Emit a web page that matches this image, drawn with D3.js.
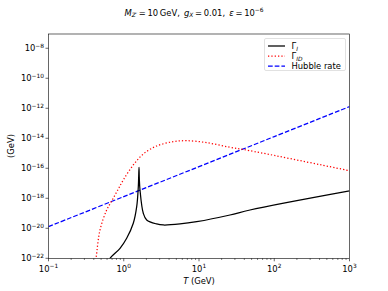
<!DOCTYPE html>
<html><head><meta charset="utf-8">
<script src="https://cdn.jsdelivr.net/npm/d3@7"></script>
<style>html,body{margin:0;padding:0;background:#fff;}svg{display:block;font-family:"DejaVu Sans",sans-serif;}</style>
</head><body>
<svg id="c" width="388" height="291"></svg>
<script>
// Data
const tempI = [0.6, 0.657, 0.892, 1.094, 1.339, 1.486, 1.561, 1.58, 1.595, 1.61, 1.644, 1.819, 2.018, 2.742, 3.355, 5.59, 9.32, 25.8, 47.6, 1000];
const gammaI = [3.2e-23, 1.0e-22, 4.6e-22, 2.15e-21, 2.15e-20, 2.75e-19, 5.9e-18, 3.0e-17, 1.17e-16, 2.0e-17, 3.6e-18, 1.0e-19, 3.6e-20, 1.94e-20, 1.66e-20, 1.94e-20, 2.75e-20, 7.7e-20, 1.66e-19, 3.07e-18];
const tempID = [0.40, 0.428, 0.4835, 0.593, 0.6915, 0.826, 0.986, 1.339, 1.819, 2.742, 4.556, 6.864, 12.66, 25.8, 47.6, 1000];
const gammaID = [1e-23, 1e-22, 7.7e-21, 1.66e-19, 6.6e-19, 3.3e-18, 1.66e-17, 1.66e-16, 8.98e-16, 3.07e-15, 5.93e-15, 6.9e-15, 5.09e-15, 2.51e-15, 1.49e-15, 6.9e-17];
const tempH = [0.1, 1, 10, 100, 1000];
const hubble = [1.29e-20, 1.29e-18, 1.29e-16, 1.29e-14, 1.29e-12];
const xTickExps = [-1, 0, 1, 2, 3];
const yTickExps = [-22, -20, -18, -16, -14, -12, -10, -8];
const legendLabels = [["Γ", "I"], ["Γ", "ID"], ["Hubble rate", null]];

const svg = d3.select("#c");
const L = 48.5, R = 349.5, T = 34, B = 258.3;
const x = d3.scaleLog().domain([0.1, 1000]).range([L, R]);
const y = d3.scaleLog().domain([1e-22, Math.pow(10, -7.05)]).range([B, T]);

svg.append("defs").append("clipPath").attr("id", "clip")
  .append("rect").attr("x", L).attr("y", T).attr("width", R - L).attr("height", B - T);

const fs = 8.4;
function powLabel(sel, e) {
  sel.append("tspan").text("10");
  sel.append("tspan").attr("dy", -3.6).attr("font-size", fs * 0.7).text(e < 0 ? "\u2212" + (-e) : String(e));
}

// x minor ticks
const g = svg.append("g");
for (let d = -1; d < 3; d++) {
  for (let k = 2; k <= 9; k++) {
    const xv = x(k * Math.pow(10, d));
    g.append("line").attr("x1", xv).attr("x2", xv).attr("y1", B).attr("y2", B + 1.7).attr("stroke", "#000").attr("stroke-width", 0.5);
  }
}
xTickExps.forEach(e => {
  const xv = x(Math.pow(10, e));
  g.append("line").attr("x1", xv).attr("x2", xv).attr("y1", B).attr("y2", B + 3).attr("stroke", "#000").attr("stroke-width", 0.6);
  const t = g.append("text").attr("x", xv).attr("y", B + 13.5).attr("text-anchor", "middle").attr("font-size", fs);
  powLabel(t, e);
});
yTickExps.forEach(e => {
  const yv = y(Math.pow(10, e));
  g.append("line").attr("x1", L - 3).attr("x2", L).attr("y1", yv).attr("y2", yv).attr("stroke", "#000").attr("stroke-width", 0.6);
  const t = g.append("text").attr("x", L - 4.5).attr("y", yv + 3).attr("text-anchor", "end").attr("font-size", fs);
  powLabel(t, e);
});

// curves
const lineGen = d3.line().x(d => x(d[0])).y(d => y(d[1])).curve(d3.curveCatmullRom.alpha(0.5));
const plot = svg.append("g").attr("clip-path", "url(#clip)");
plot.append("path").attr("d", lineGen(d3.zip(tempH, hubble))).attr("fill", "none")
  .attr("stroke", "#0000ff").attr("stroke-width", 1.25).attr("stroke-dasharray", "4.7,2");
plot.append("path").attr("d", lineGen(d3.zip(tempID, gammaID))).attr("fill", "none")
  .attr("stroke", "#ff0000").attr("stroke-width", 1.25).attr("stroke-dasharray", "1.26,2.08");
plot.append("path").attr("d", lineGen(d3.zip(tempI, gammaI))).attr("fill", "none")
  .attr("stroke", "#000").attr("stroke-width", 1.25);

// spines
svg.append("rect").attr("x", L).attr("y", T).attr("width", R - L).attr("height", B - T)
  .attr("fill", "none").attr("stroke", "#000").attr("stroke-width", 0.6);

// legend
const lg = svg.append("g");
lg.append("rect").attr("x", 264.5).attr("y", 38.5).attr("width", 81).attr("height", 32).attr("rx", 1.5)
  .attr("fill", "#fff").attr("fill-opacity", 0.8).attr("stroke", "#ccc").attr("stroke-width", 0.6);
const styles = [
  {c: "#000", da: null},
  {c: "#ff0000", da: "1.26,2.08"},
  {c: "#0000ff", da: "4.7,2"}
];
legendLabels.forEach((lab, i) => {
  const yy = 46 + i * 10;
  const ln = lg.append("line").attr("x1", 268).attr("x2", 285).attr("y1", yy).attr("y2", yy)
    .attr("stroke", styles[i].c).attr("stroke-width", 1.25);
  if (styles[i].da) ln.attr("stroke-dasharray", styles[i].da);
  const t = lg.append("text").attr("x", 291.5).attr("y", yy + 3).attr("font-size", fs);
  t.append("tspan").text(lab[0]);
  if (lab[1]) t.append("tspan").attr("dy", 2.2).attr("font-size", fs * 0.7).attr("font-style", "italic").text(lab[1]);
});

// title
const tt = svg.append("text").attr("x", 194).attr("y", 15.5).attr("text-anchor", "middle").attr("font-size", fs);
tt.append("tspan").attr("font-style", "italic").text("M");
tt.append("tspan").attr("dy", 1.8).attr("font-size", fs * 0.7).attr("font-style", "italic").text("Z\u2032");
tt.append("tspan").attr("dy", -1.8).text("\u2009=\u200910\u2009GeV,\u2002");
tt.append("tspan").attr("font-style", "italic").text("g");
tt.append("tspan").attr("dy", 1.8).attr("font-size", fs * 0.7).attr("font-style", "italic").text("X");
tt.append("tspan").attr("dy", -1.8).text("\u2009=\u20090.01,\u2002");
tt.append("tspan").attr("font-style", "italic").text("\u03b5");
tt.append("tspan").text("\u2009=\u200910");
tt.append("tspan").attr("dy", -3.6).attr("font-size", fs * 0.7).text("\u22126");

// axis labels
const xl = svg.append("text").attr("x", 199).attr("y", 283.5).attr("text-anchor", "middle").attr("font-size", fs);
xl.append("tspan").attr("font-style", "italic").text("T");
xl.append("tspan").text(" (GeV)");
svg.append("text").attr("transform", "translate(14,146) rotate(-90)").attr("text-anchor", "middle")
  .attr("font-size", fs).text("(GeV)");
</script>
</body></html>
